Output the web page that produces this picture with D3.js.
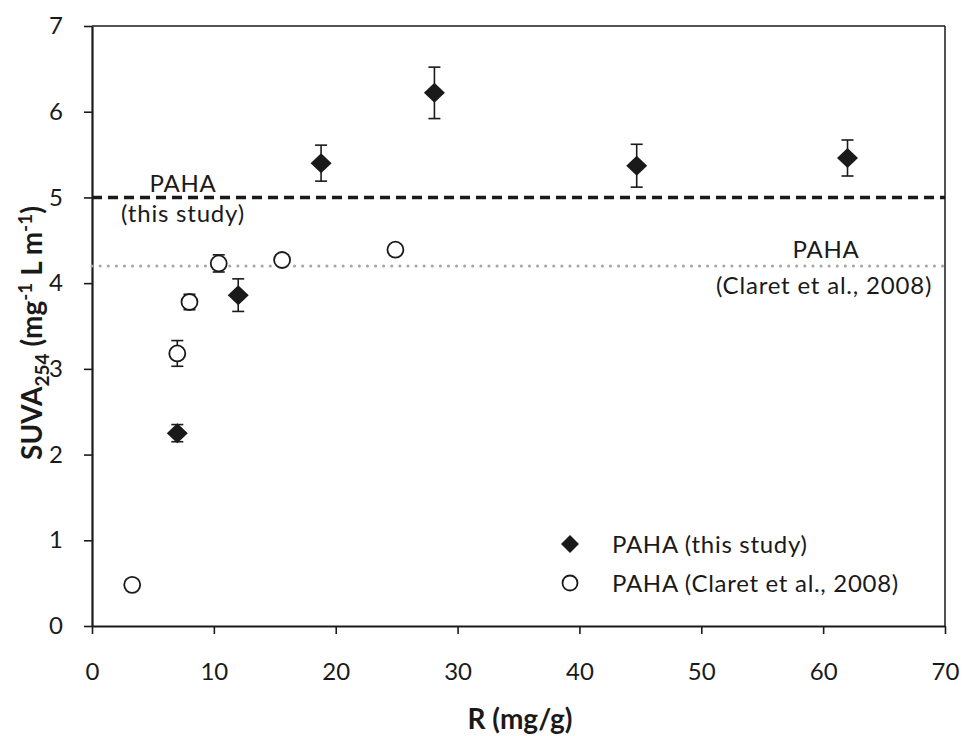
<!DOCTYPE html>
<html><head><meta charset="utf-8">
<script src="https://cdn.jsdelivr.net/npm/d3@7"></script>
<style>
body{margin:0;background:#fff}
text{font-family:Lato,"Open Sans",sans-serif;fill:#1a1a1a}
</style>
</head><body>
<svg id="c" width="963" height="736"></svg>
<script>
// ---- data ----
const thisR    = [7.0, 12.0, 18.8, 28.1, 44.7, 62.0];
const thisSUVA = [2.25, 3.86, 5.40, 6.22, 5.37, 5.46];
const thisErr  = [0.10, 0.19, 0.21, 0.30, 0.25, 0.21];
const claretR    = [3.3, 7.0, 8.0, 10.4, 15.6, 24.9];
const claretSUVA = [0.48, 3.18, 3.78, 4.23, 4.27, 4.39];
const claretErr  = [0, 0.15, 0.09, 0.10, 0, 0];
const xTicks = [0, 10, 20, 30, 40, 50, 60, 70];
const yTicks = [0, 1, 2, 3, 4, 5, 6, 7];
const refThisStudy = 5.0;
const refClaret = 4.2;
const seriesNames = ["PAHA (this study)", "PAHA (Claret et al., 2008)"];

// ---- chart ----
const svg = d3.select("#c");
const L = 92, R = 945, T = 26, B = 626;
const x = d3.scaleLinear().domain([0, 70]).range([L, R]);
const y = d3.scaleLinear().domain([0, 7]).range([B, T]);
const ink = "#1a1a1a";

// frame top/right
svg.append("line").attr("x1", L).attr("x2", R).attr("y1", T).attr("y2", T).attr("stroke", ink).attr("stroke-width", 1.5);
svg.append("line").attr("x1", R).attr("x2", R).attr("y1", T).attr("y2", B).attr("stroke", ink).attr("stroke-width", 1.5);

// axes
const xAxis = svg.append("g").attr("transform", `translate(0,${B})`)
  .call(d3.axisBottom(x).tickValues(xTicks).tickFormat(d3.format("d")).tickSize(8).tickPadding(29).tickSizeOuter(0));
const yAxis = svg.append("g").attr("transform", `translate(${L},0)`)
  .call(d3.axisLeft(y).tickValues(yTicks).tickFormat(d3.format("d")).tickSize(8).tickPadding(21).tickSizeOuter(0));
[xAxis, yAxis].forEach(g => {
  g.select(".domain").attr("stroke", ink).attr("stroke-width", 2.2);
  g.selectAll(".tick line").attr("stroke", ink).attr("stroke-width", 1.6);
  g.selectAll(".tick text").style("font-family", "Lato").style("font-size", "24px").attr("fill", "#222");
});

// reference lines
svg.append("line").attr("x1", L).attr("x2", R).attr("y1", y(refClaret)).attr("y2", y(refClaret))
  .attr("stroke", "#a6a6a6").attr("stroke-width", 3).attr("stroke-dasharray", "0.1,8").attr("stroke-linecap", "round");
svg.append("line").attr("x1", L).attr("x2", R).attr("y1", y(refThisStudy)).attr("y2", y(refThisStudy))
  .attr("stroke", ink).attr("stroke-width", 3.6).attr("stroke-dasharray", "10,6").attr("stroke-linecap", "butt");

// reference labels
const lab = (tx, ty, s) => svg.append("text").attr("x", tx).attr("y", ty).attr("text-anchor", "middle")
  .style("font-size", "24px").style("letter-spacing", "0.8px").text(s);
lab(183, 192, "PAHA");
lab(183, 222, "(this study)");
lab(826, 258, "PAHA");
lab(824, 294, "(Claret et al., 2008)");

// error bars
function errBars(xs, ys, es) {
  const g = svg.append("g").attr("stroke", ink).attr("stroke-width", 1.6);
  xs.forEach((xv, i) => {
    if (!es[i]) return;
    const cx = x(xv), y1 = y(ys[i] + es[i]), y2 = y(ys[i] - es[i]);
    g.append("line").attr("x1", cx).attr("x2", cx).attr("y1", y1).attr("y2", y2);
    g.append("line").attr("x1", cx - 6).attr("x2", cx + 6).attr("y1", y1).attr("y2", y1);
    g.append("line").attr("x1", cx - 6).attr("x2", cx + 6).attr("y1", y2).attr("y2", y2);
  });
}
errBars(thisR, thisSUVA, thisErr);
errBars(claretR, claretSUVA, claretErr);

const diamond = (hw, hh) => `M0,${-hh}L${hw},0L0,${hh}L${-hw},0Z`;

svg.append("g").selectAll("path").data(thisR).join("path")
  .attr("transform", (d, i) => `translate(${x(d)},${y(thisSUVA[i])})`)
  .attr("d", diamond(10.5, 10)).attr("fill", ink);

svg.append("g").selectAll("circle").data(claretR).join("circle")
  .attr("cx", d => x(d)).attr("cy", (d, i) => y(claretSUVA[i])).attr("r", 8)
  .attr("fill", "#fff").attr("stroke", ink).attr("stroke-width", 1.8);

// legend
const lg = svg.append("g");
lg.append("path").attr("transform", "translate(570,544)").attr("d", diamond(9, 9)).attr("fill", ink);
lg.append("circle").attr("cx", 570).attr("cy", 583).attr("r", 7.5).attr("fill", "#fff").attr("stroke", ink).attr("stroke-width", 1.8);
lg.append("text").attr("x", 612).attr("y", 553).style("font-size", "24px").style("letter-spacing", "0.7px").text(seriesNames[0]);
lg.append("text").attr("x", 612).attr("y", 592).style("font-size", "24px").style("letter-spacing", "0.7px").text(seriesNames[1]);

// axis titles
svg.append("text").attr("x", 520).attr("y", 729).attr("text-anchor", "middle")
  .style("font-size", "28px").style("font-weight", "bold").text("R (mg/g)");

const yt = svg.append("text").attr("transform", "translate(42,333) rotate(-90)").attr("text-anchor", "middle")
  .style("font-size", "28px").style("font-weight", "bold");
yt.append("tspan").text("SUVA");
yt.append("tspan").attr("dy", 7).style("font-size", "19px").text("254");
yt.append("tspan").attr("dy", -7).text(" (mg");
yt.append("tspan").attr("dy", -10).style("font-size", "19px").text("-1");
yt.append("tspan").attr("dy", 10).text(" L m");
yt.append("tspan").attr("dy", -10).style("font-size", "19px").text("-1");
yt.append("tspan").attr("dy", 10).text(")");
</script>
</body></html>
